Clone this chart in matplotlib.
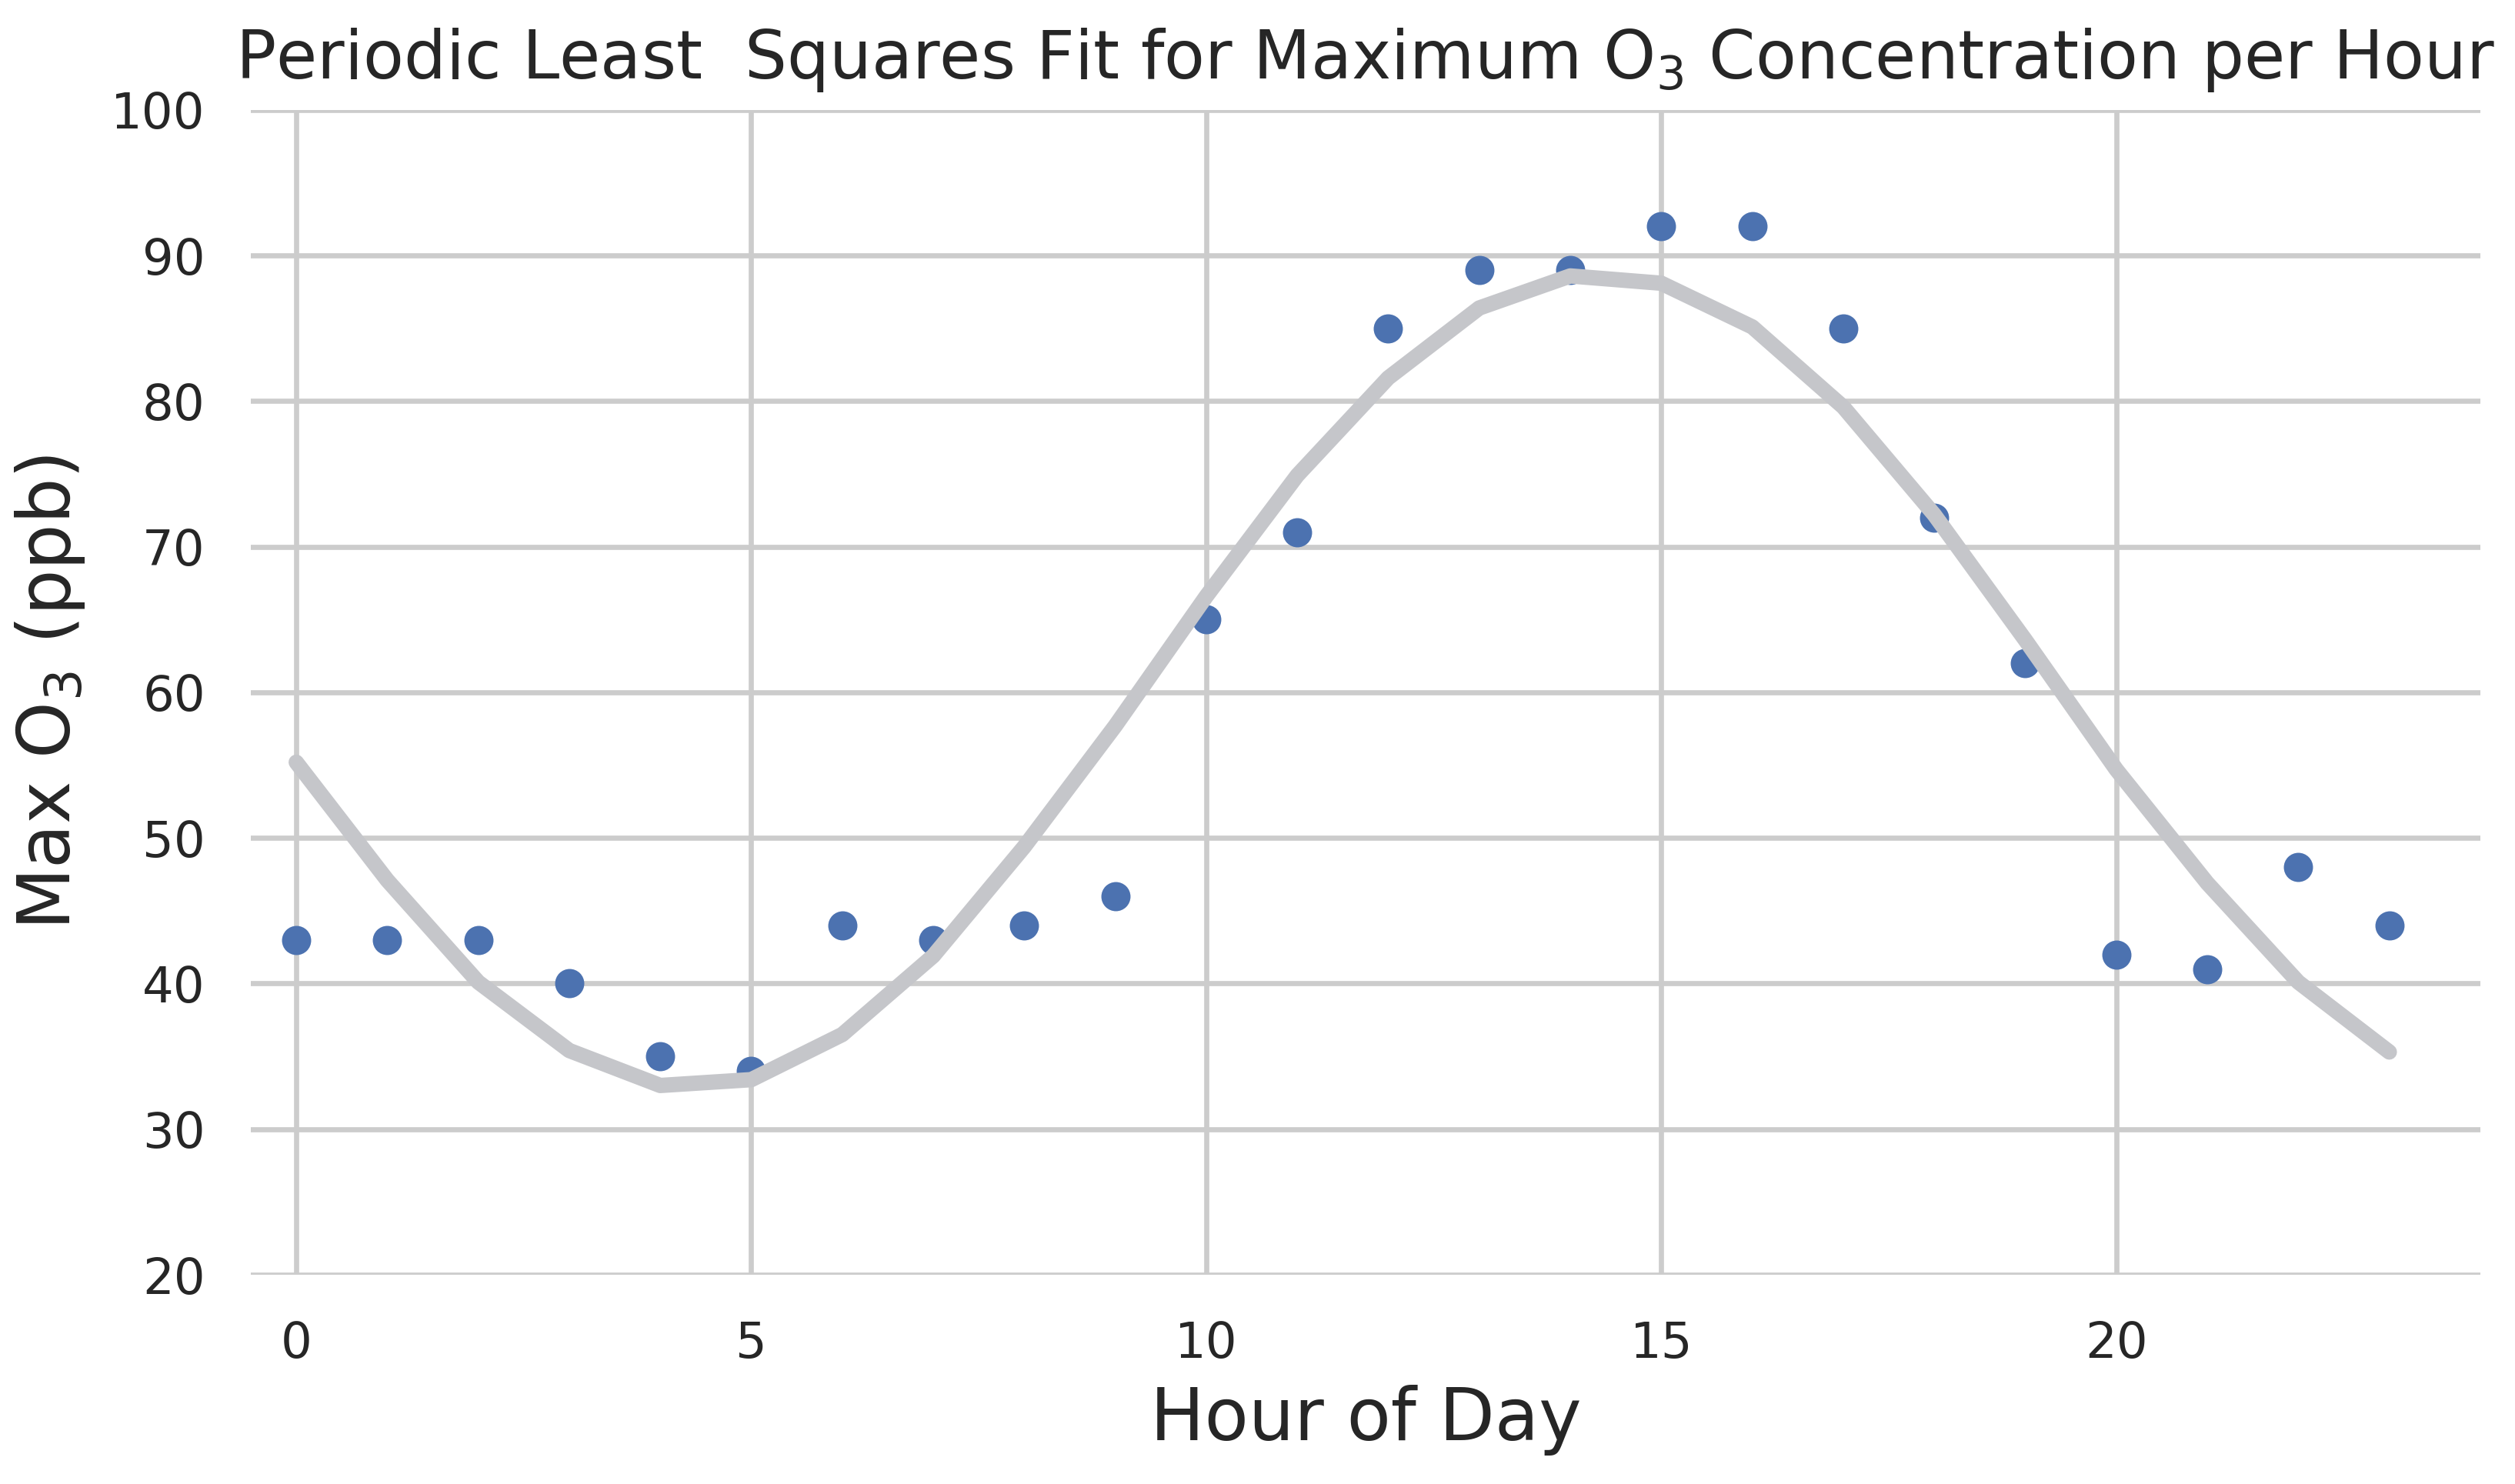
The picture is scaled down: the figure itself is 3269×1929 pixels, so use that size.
import matplotlib
matplotlib.use('Agg')
import matplotlib.pyplot as plt

# hourly max O3 (ppb) and the periodic least squares fit
hours = list(range(24))
max_o3 = [43, 43, 43, 40, 35, 34, 44, 43, 44, 46, 65, 71,
          85, 89, 89, 92, 92, 85, 72, 62, 42, 41, 48, 44]
fit_o3 = [55.2, 47.1, 40.1, 35.4, 33.0, 33.4, 36.5, 41.9, 49.4, 57.7, 66.6, 74.9,
          81.6, 86.4, 88.6, 88.1, 85.1, 79.6, 72.2, 63.6, 54.7, 46.9, 40.1, 35.3]

x_ticks = [0, 5, 10, 15, 20]
y_ticks = [20, 30, 40, 50, 60, 70, 80, 90, 100]

text_color = '#262626'
plt.rcParams['font.family'] = ['DejaVu Sans']
plt.rcParams['text.color'] = text_color
plt.rcParams['axes.labelcolor'] = text_color

fig = plt.figure(figsize=(3269 / 300, 1929 / 300), dpi=300)
ax = fig.add_axes([0.0997, 0.1410, 0.8865, 0.7849])

ax.plot(hours, max_o3, 'o', color='#4C72B0', markersize=9.1, markeredgewidth=0, zorder=3)
ax.plot(hours, fit_o3, color='#C5C6CA', linewidth=4.8, solid_capstyle='round', zorder=4)

ax.set_xlim(-0.5, 24)
ax.set_ylim(20, 100)
ax.set_xticks(x_ticks)
ax.set_yticks(y_ticks)

ax.grid(True, color='#cccccc', linewidth=1.6, zorder=0)
ax.set_axisbelow(True)
for s in ax.spines.values():
    s.set_visible(False)

ax.tick_params(axis='both', length=0, pad=14.2, labelsize=15.4, colors=text_color)

ax.set_xlabel('Hour of Day', fontsize=22.5, labelpad=5.3)
ax.set_ylabel('Max O$_3$ (ppb)', fontsize=22.5, labelpad=7.4)
ax.set_title('Periodic Least  Squares Fit for Maximum O$_3$ Concentration per Hour',
             fontsize=20.8, pad=9.9)

fig.savefig('out.png', dpi=300, facecolor='white')
